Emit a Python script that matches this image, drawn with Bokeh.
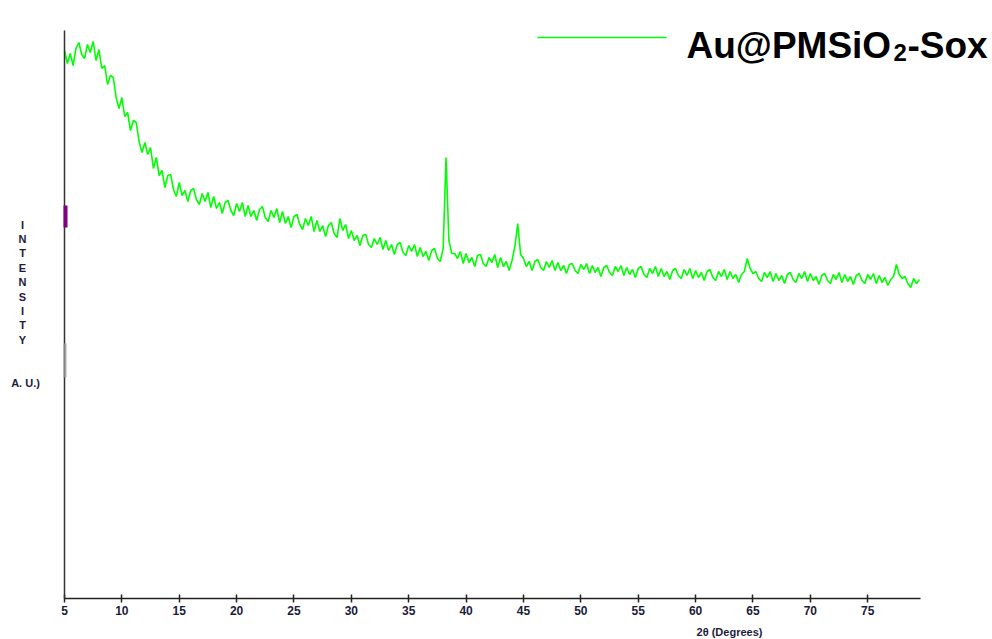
import numpy as np
from bokeh.plotting import figure
from bokeh.models import Range1d, FixedTicker, Label, BoxAnnotation
from bokeh.embed import file_html
from bokeh.resources import INLINE

# ---------------- data ----------------
two_theta_start = 5.0
two_theta_step = 0.25
intensity = [
    548, 535, 545, 533,   # 5
    550, 556, 544, 540,   # 6
    554, 546, 557, 538,   # 7
    549, 530, 533, 514,   # 8
    523, 521, 501, 490,   # 9
    501, 482, 486, 468,   # 10
    478, 476, 457, 446,   # 11
    456, 444, 451, 430,   # 12
    441, 423, 428, 411,   # 13
    423, 424, 409, 402,   # 14
    416, 403, 408, 397,   # 15
    408, 410, 399, 394,   # 16
    405, 397, 406, 391,   # 17
    402, 390, 396, 385,   # 18
    396, 398, 388, 383,   # 19
    395, 387, 396, 382,   # 20
    393, 382, 388, 378,   # 21
    389, 392, 381, 377,   # 22
    388, 381, 390, 376,   # 23
    387, 375, 382, 371,   # 24
    382, 384, 374, 369,   # 25
    380, 373, 382, 367,   # 26
    378, 367, 373, 362,   # 27
    373, 376, 365, 361,   # 28
    380, 368, 374, 360,   # 29
    368, 358, 363, 353,   # 30
    363, 364, 354, 351,   # 31
    360, 354, 361, 349,   # 32
    358, 348, 354, 344,   # 33
    354, 356, 346, 343,   # 34
    353, 347, 354, 342,   # 35
    351, 342, 347, 338,   # 36
    348, 350, 340, 337,   # 37
    350, 441, 358, 345,   # 38
    345, 340, 347, 335,   # 39
    345, 336, 341, 332,   # 40
    343, 344, 335, 332,   # 41
    341, 336, 344, 331,   # 42
    341, 332, 337, 328,   # 43
    338, 352, 375, 344,   # 44
    340, 332, 337, 328,   # 45
    337, 339, 331, 328,   # 46
    337, 331, 338, 328,   # 47
    336, 328, 333, 325,   # 48
    334, 335, 328, 325,   # 49
    334, 329, 335, 325,   # 50
    333, 326, 331, 322,   # 51
    331, 333, 326, 323,   # 52
    332, 327, 333, 323,   # 53
    331, 324, 329, 321,   # 54
    330, 332, 324, 321,   # 55
    330, 325, 332, 322,   # 56
    330, 322, 327, 319,   # 57
    328, 330, 323, 320,   # 58
    329, 323, 330, 320,   # 59
    328, 321, 326, 318,   # 60
    327, 329, 321, 318,   # 61
    327, 322, 329, 319,   # 62
    327, 320, 324, 316,   # 63
    324, 327, 340, 330,   # 64
    325, 327, 320, 317,   # 65
    326, 321, 327, 317,   # 66
    325, 318, 323, 315,   # 67
    324, 326, 319, 316,   # 68
    325, 320, 327, 317,   # 69
    325, 318, 322, 314,   # 70
    323, 325, 318, 315,   # 71
    324, 319, 326, 316,   # 72
    324, 317, 322, 314,   # 73
    323, 325, 318, 315,   # 74
    324, 319, 325, 315,   # 75
    323, 316, 321, 313,   # 76
    319, 322, 334, 324,   # 77
    320, 322, 315, 311,   # 78
    320, 315, 319,        # 79
]
two_theta = two_theta_start + two_theta_step * np.arange(len(intensity))
x_ticks = [5, 10, 15, 20, 25, 30, 35, 40, 45, 50, 55, 60, 65, 70, 75]
x_min, x_max = 5.0, 79.6
y_min, y_max = 0.0, 568.0
series_name = "Au@PMSiO"
series_sub = "2"
series_tail = "-Sox"
x_label = "2θ (Degrees)"
y_label_letters = list("INTENSITY")
y_unit = "A. U.)"

# ---------------- layout ----------------
W, H = 992, 639
AX_LEFT, AX_RIGHT, AX_TOP, AX_BOTTOM = 64, 920, 30, 598   # axis box in page pixels
SX = (AX_RIGHT - AX_LEFT) / (x_max - x_min)
SY = (AX_BOTTOM - AX_TOP) / (y_max - y_min)

def xd(px):
    return x_min + (px - AX_LEFT) / SX

def yd(py):
    return y_min + (AX_BOTTOM - py) / SY

GREEN = "#00ff00"
TXT = "#1c1c3a"

p = figure(width=W, height=H, output_backend="svg", toolbar_location=None,
           x_range=Range1d(xd(0), xd(W)), y_range=Range1d(yd(H), yd(0)),
           min_border=0, min_border_left=0, min_border_right=0,
           min_border_top=0, min_border_bottom=0)
p.outline_line_color = None
p.xgrid.visible = False
p.ygrid.visible = False
p.background_fill_color = "white"
p.border_fill_color = "white"

p.line(two_theta, intensity, line_color=GREEN, line_width=1.6)

# x axis
xa = p.xaxis[0]
xa.fixed_location = y_min
xa.bounds = (x_min, x_max)
xa.ticker = FixedTicker(ticks=x_ticks)
xa.major_tick_in = 4
xa.major_tick_out = 4
xa.minor_tick_in = 0
xa.minor_tick_out = 0
xa.axis_line_color = "#222222"
xa.axis_line_width = 1.5
xa.major_tick_line_color = "#222222"
xa.major_tick_line_width = 1.5
xa.major_label_text_font = "Liberation Sans"
xa.major_label_text_font_style = "bold"
xa.major_label_text_font_size = "12px"
xa.major_label_text_color = TXT
xa.major_label_standoff = 3

# y axis
ya = p.yaxis[0]
ya.fixed_location = x_min
ya.bounds = (y_min, y_max)
ya.ticker = FixedTicker(ticks=[])
ya.major_tick_in = 0
ya.major_tick_out = 0
ya.minor_tick_in = 0
ya.minor_tick_out = 0
ya.axis_line_color = "#333333"
ya.axis_line_width = 1.5

# small marks on the y axis
p.add_layout(BoxAnnotation(left=xd(63), right=xd(67), top=yd(205), bottom=yd(227),
                           fill_color="#800080", fill_alpha=1, line_color=None))
p.add_layout(BoxAnnotation(left=xd(63), right=xd(66), top=yd(343), bottom=yd(377),
                           fill_color="#999999", fill_alpha=0.8, line_color=None))

def lab(text, px, py, size, align="center", baseline="middle", color=TXT, style="bold"):
    p.add_layout(Label(x=xd(px), y=yd(py), text=text, text_align=align,
                       text_baseline=baseline, text_font="Liberation Sans",
                       text_font_style=style, text_font_size=size, text_color=color))

# x axis title
lab(x_label, 729, 631, "11px")

# stacked y label
for i, ch in enumerate(y_label_letters):
    lab(ch, 22, 224 + i * 14.4, "11px")
lab(y_unit, 25, 382, "11px")

# legend
p.line([xd(537), xd(666)], [yd(37), yd(37)], line_color=GREEN, line_width=1.3)
lab(series_name, 686, 45, "37px", align="left", baseline="alphabetic", color="#000000")
lab(series_sub, 893, 52, "24px", align="left", baseline="alphabetic", color="#000000")
lab(series_tail, 907, 45, "37px", align="left", baseline="alphabetic", color="#000000")

open("out.html", "w").write(file_html(p, INLINE))
